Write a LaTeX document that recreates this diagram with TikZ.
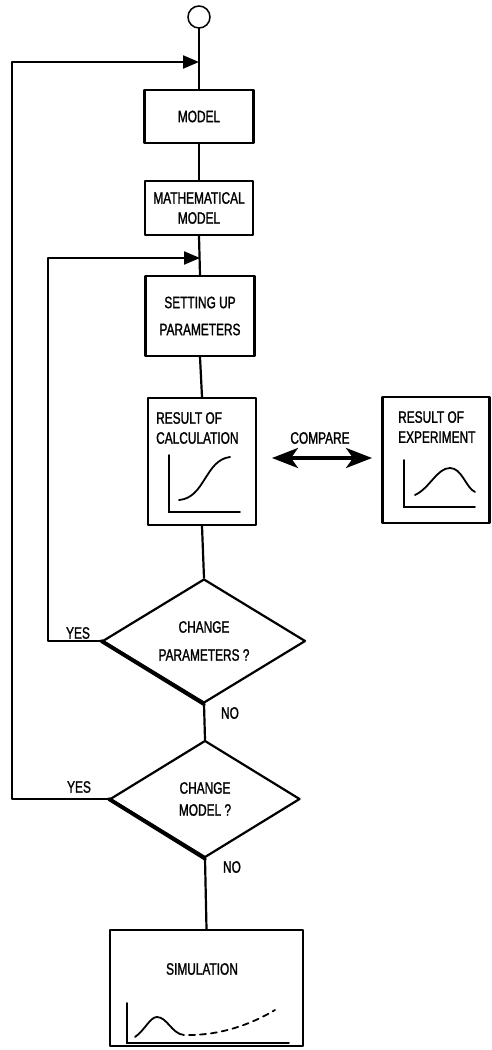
\documentclass[tikz,border=0pt]{standalone}
\usepackage{fontspec}
\setmainfont{Liberation Sans}[FakeStretch=0.72,FakeBold=1.3]
\usetikzlibrary{shapes.geometric,arrows.meta}
\tikzset{
  ln/.style={line width=2.2pt, line cap=round, line join=round},
  box/.style={ln, draw, rectangle, inner sep=0pt, align=center, font=\fontsize{16.5}{20}\selectfont},
  dia/.style={ln, draw, diamond, aspect=1.6, inner sep=0pt, align=center},
  lbl/.style={inner sep=0pt, font=\fontsize{16.5}{20}\selectfont},
  loopar/.style={ln, -{Triangle[length=16pt,width=13pt]}},
  cmp/.style={line width=3.2pt, {Stealth[length=26pt,width=20pt,inset=7pt]}-{Stealth[length=26pt,width=20pt,inset=7pt]}},
  crv/.style={line width=1.8pt, line cap=round}
}
\begin{document}
\begin{tikzpicture}[x=1pt,y=-1pt]
\useasboundingbox (0,0) rectangle (492,1050);
% start
\node[line width=1.5pt, draw, circle, minimum size=22pt, inner sep=0pt] (start) at (199,17) {};
% boxes
\node[box, minimum width=109pt, minimum height=53pt] (model) at (199,116.5) {MODEL};
\node[box, minimum width=108pt, minimum height=54pt] (math) at (199,208) {MATHEMATICAL\\MODEL};
\node[box, minimum width=109pt, minimum height=80pt, font=\fontsize{16.5}{27}\selectfont] (setup) at (200,316) {SETTING UP\\PARAMETERS};
\node[box, minimum width=108pt, minimum height=127pt] (calc) at (202,461.5) {};
\node[lbl, anchor=west, align=left] (calctxt) at (156,428) {RESULT OF\\CALCULATION};
\node[box, minimum width=107pt, minimum height=126pt] (exp) at (436,460) {};
\node[lbl, anchor=west, align=left] (exptxt) at (398,427) {RESULT OF\\EXPERIMENT};
% diamonds
\node[dia, minimum width=203pt, minimum height=124pt, font=\fontsize{16.5}{28}\selectfont] (d1) at (204,641) {CHANGE\\PARAMETERS ?};
\node[dia, minimum width=190pt, minimum height=117pt, font=\fontsize{16.5}{22}\selectfont] (d2) at (205,799) {CHANGE\\MODEL ?};
\draw[line width=3.8pt, line cap=round] (d1.west) -- (d1.south);
\draw[line width=3.8pt, line cap=round] (d2.west) -- (d2.south);
% simulation
\node[box, minimum width=193pt, minimum height=116pt] (sim) at (206.5,988) {};
\node[lbl] (simtxt) at (202,969) {SIMULATION};
% labels
\node[lbl] (yes1) at (78,633) {YES};
\node[lbl] (no1) at (230,713) {NO};
\node[lbl] (yes2) at (79,787) {YES};
\node[lbl] (no2) at (232,867) {NO};
\node[lbl] (cmptxt) at (320,438) {COMPARE};
% junction coordinates
\coordinate (j1) at (199,62);
\coordinate (j2) at (200,258);
\coordinate (l1) at (12,62);
\coordinate (l2) at (48,258);
% main line
\draw[ln] (start.south) -- (model.north);
\draw[ln] (model.south) -- (math.north);
\draw[ln] (math.south) -- (setup.north);
\draw[ln] (setup.south) -- (calc.north);
\draw[ln] (calc.south) -- (d1.north);
\draw[ln] (d1.south) -- (d2.north);
\draw[ln] (d2.south) -- (sim.north);
% loops
\draw[loopar] (d2.west) -| (l1) -- (j1);
\draw[loopar] (d1.west) -| (l2) -- (j2);
% compare arrow
\coordinate (ca) at (272,458);
\coordinate (cb) at (372,458);
\draw[cmp] (ca) -- (cb);
% calc graph
\draw[crv] (169,455) -- (169,512) -- (240,512);
\draw[crv] (179,500) .. controls (205,498) and (205,460) .. (230,457);
% exp graph
\draw[crv] (404,460) -- (404,507) -- (475,507);
\draw[crv] (415,495) .. controls (430,488) and (437,468) .. (450,468) .. controls (462,468) and (466,488) .. (475,492);
% sim graph
\draw[crv] (127,1003) -- (127,1043) -- (289,1043);
\draw[crv] (135,1037) .. controls (145,1030) and (150,1017) .. (157,1017) .. controls (167,1017) and (172,1034) .. (184,1035);
\draw[crv, dashed, dash pattern=on 6pt off 5pt] (189,1035) .. controls (220,1035) and (250,1025) .. (275,1010);
\end{tikzpicture}
\end{document}
